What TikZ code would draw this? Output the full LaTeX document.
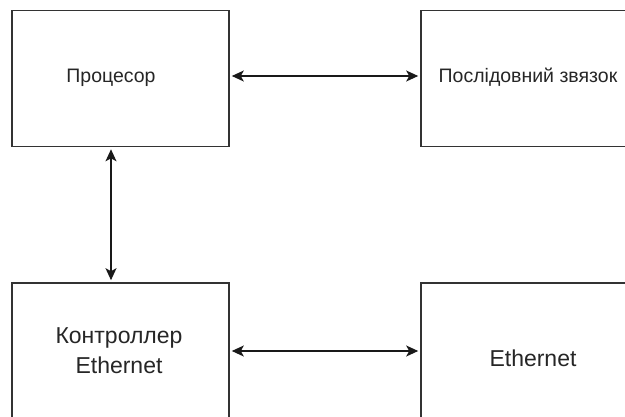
\documentclass[tikz,border=0pt]{standalone}
\usepackage{fontspec}
\setmainfont{Liberation Sans}
\usetikzlibrary{arrows.meta}
\begin{document}
\begin{tikzpicture}[x=1pt,y=-1pt,
  block/.style={draw=black!80,line width=1.6pt,minimum width=217pt,minimum height=136pt,inner sep=0pt},
  smalltext/.style={anchor=base,inner sep=0pt,text=black!85,font=\fontsize{19.5}{24}\selectfont},
  bigtext/.style={anchor=base,inner sep=0pt,text=black!85,align=center,font=\fontsize{23}{30}\selectfont},
  link/.style={line width=1.3pt,black!90,{Stealth[length=12pt,width=11pt,inset=3pt]}-{Stealth[length=12pt,width=11pt,inset=3pt]},shorten <=2pt,shorten >=2pt}]
\useasboundingbox (0,0) rectangle (625,416);
\fill[white] (0,0) rectangle (625,416);
\begin{scope}
\clip (0,0) rectangle (625,416);
% four blocks, the right and bottom ones run past the frame
\node[block] (cpu) at (120.5,78.5) {};
\node[block] (ser) at (529.5,78.5) {};
\node[block] (ctl) at (120.5,351) {};
\node[block] (eth) at (529.5,351) {};
\end{scope}
% labels
\node[smalltext] (cpul) at (111,82) {Процесор};
\node[smalltext] (serl) at (528,82) {Послідовний звязок};
\node[bigtext] (ctll) at (119,373) {Контроллер\\Ethernet};
\node[bigtext] (ethl) at (533,366) {Ethernet};
% connections
\draw[link] (cpu.east |- 0,76) -- (ser.west |- 0,76);
\draw[link] (cpul |- cpu.south) -- (cpul |- ctl.north);
\draw[link] (ctl.east) -- (eth.west);
\end{tikzpicture}
\end{document}
